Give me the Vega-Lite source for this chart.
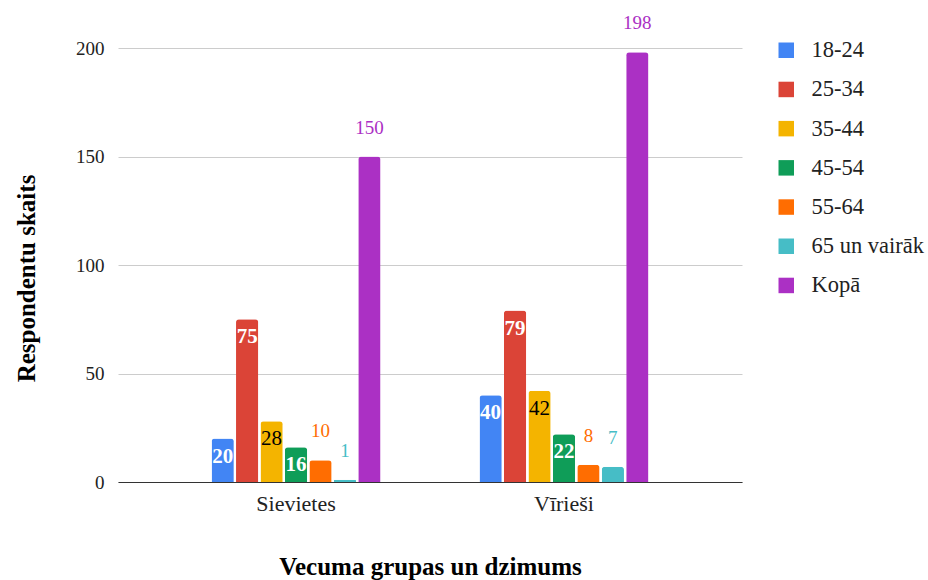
{
  "$schema": "https://vega.github.io/schema/vega-lite/v6.json",
  "autosize": "none",
  "width": 624,
  "height": 434,
  "padding": {"left": 118, "top": 48, "right": 186, "bottom": 98},
  "background": "#ffffff",
  "config": {
    "font": "Liberation Serif",
    "view": {"stroke": null}
  },
  "data": {
    "values": [
      {"dzimums": "Sievietes", "grupa": "18-24", "skaits": 20},
      {"dzimums": "Sievietes", "grupa": "25-34", "skaits": 75},
      {"dzimums": "Sievietes", "grupa": "35-44", "skaits": 28},
      {"dzimums": "Sievietes", "grupa": "45-54", "skaits": 16},
      {"dzimums": "Sievietes", "grupa": "55-64", "skaits": 10},
      {"dzimums": "Sievietes", "grupa": "65 un vairāk", "skaits": 1},
      {"dzimums": "Sievietes", "grupa": "Kopā", "skaits": 150},
      {"dzimums": "Vīrieši", "grupa": "18-24", "skaits": 40},
      {"dzimums": "Vīrieši", "grupa": "25-34", "skaits": 79},
      {"dzimums": "Vīrieši", "grupa": "35-44", "skaits": 42},
      {"dzimums": "Vīrieši", "grupa": "45-54", "skaits": 22},
      {"dzimums": "Vīrieši", "grupa": "55-64", "skaits": 8},
      {"dzimums": "Vīrieši", "grupa": "65 un vairāk", "skaits": 7},
      {"dzimums": "Vīrieši", "grupa": "Kopā", "skaits": 198}
    ]
  },
  "encoding": {
    "x": {
      "field": "dzimums",
      "type": "nominal",
      "sort": null,
      "scale": {"paddingInner": 0.187, "paddingOuter": 0.258},
      "axis": {
        "title": "Vecuma grupas un dzimums",
        "titleFont": "Liberation Serif",
        "titleFontSize": 25,
        "titleFontWeight": "bold",
        "titleColor": "#000000",
        "titlePadding": 40,
        "labelAngle": 0,
        "labelFont": "Liberation Serif",
        "labelFontSize": 22,
        "labelColor": "#222222",
        "labelPadding": 11,
        "ticks": false,
        "domainColor": "#333333",
        "domainWidth": 1.2
      }
    },
    "xOffset": {
      "field": "grupa",
      "type": "nominal",
      "sort": null,
      "scale": {"paddingInner": 0.09, "paddingOuter": 1}
    },
    "y": {
      "field": "skaits",
      "type": "quantitative",
      "scale": {"domain": [0, 200], "nice": false},
      "axis": {
        "title": "Respondentu skaits",
        "titleFont": "Liberation Serif",
        "titleFontSize": 25,
        "titleFontWeight": "bold",
        "titleColor": "#000000",
        "titlePadding": 36,
        "titleY": 230,
        "values": [0, 50, 100, 150, 200],
        "labelFont": "Liberation Serif",
        "labelFontSize": 19,
        "labelColor": "#222222",
        "labelPadding": 14,
        "ticks": false,
        "domain": false,
        "gridColor": "#cccccc",
        "gridWidth": 1
      }
    }
  },
  "layer": [
    {
      "mark": {"type": "bar", "cornerRadiusTopLeft": 3, "cornerRadiusTopRight": 3},
      "encoding": {
        "color": {
          "field": "grupa",
          "type": "nominal",
          "sort": null,
          "scale": {
            "domain": ["18-24", "25-34", "35-44", "45-54", "55-64", "65 un vairāk", "Kopā"],
            "range": ["#4285F4", "#DB4437", "#F4B400", "#0F9D58", "#FF6D01", "#46BDC6", "#AB30C4"]
          },
          "legend": {
            "title": null,
            "orient": "none",
            "legendX": 657,
            "legendY": -9,
            "symbolType": "square",
            "symbolSize": 240,
            "symbolStrokeWidth": 0,
            "symbolOpacity": 1,
            "labelFont": "Liberation Serif",
            "labelFontSize": 22.5,
            "labelColor": "#222222",
            "labelOffset": 14,
            "rowPadding": 16.2,
            "labelLimit": 200
          }
        }
      }
    },
    {
      "transform": [{"filter": "datum.grupa !== 'Kopā' && datum.skaits >= 12 && datum.grupa !== '35-44'"}],
      "mark": {"type": "text", "font": "Liberation Serif", "baseline": "middle", "dy": 18, "fontSize": 21, "fontWeight": "bold", "color": "#ffffff"},
      "encoding": {"text": {"field": "skaits", "type": "quantitative"}}
    },
    {
      "transform": [{"filter": "datum.grupa === '35-44'"}],
      "mark": {"type": "text", "font": "Liberation Serif", "baseline": "middle", "dy": 18, "fontSize": 21, "color": "#000000"},
      "encoding": {"text": {"field": "skaits", "type": "quantitative"}}
    },
    {
      "transform": [{"filter": "datum.grupa === 'Kopā' || datum.skaits < 12"}],
      "mark": {"type": "text", "font": "Liberation Serif", "baseline": "middle", "dy": -29, "fontSize": 19},
      "encoding": {
        "text": {"field": "skaits", "type": "quantitative"},
        "color": {"field": "grupa", "type": "nominal", "sort": null, "legend": null}
      }
    }
  ]
}
